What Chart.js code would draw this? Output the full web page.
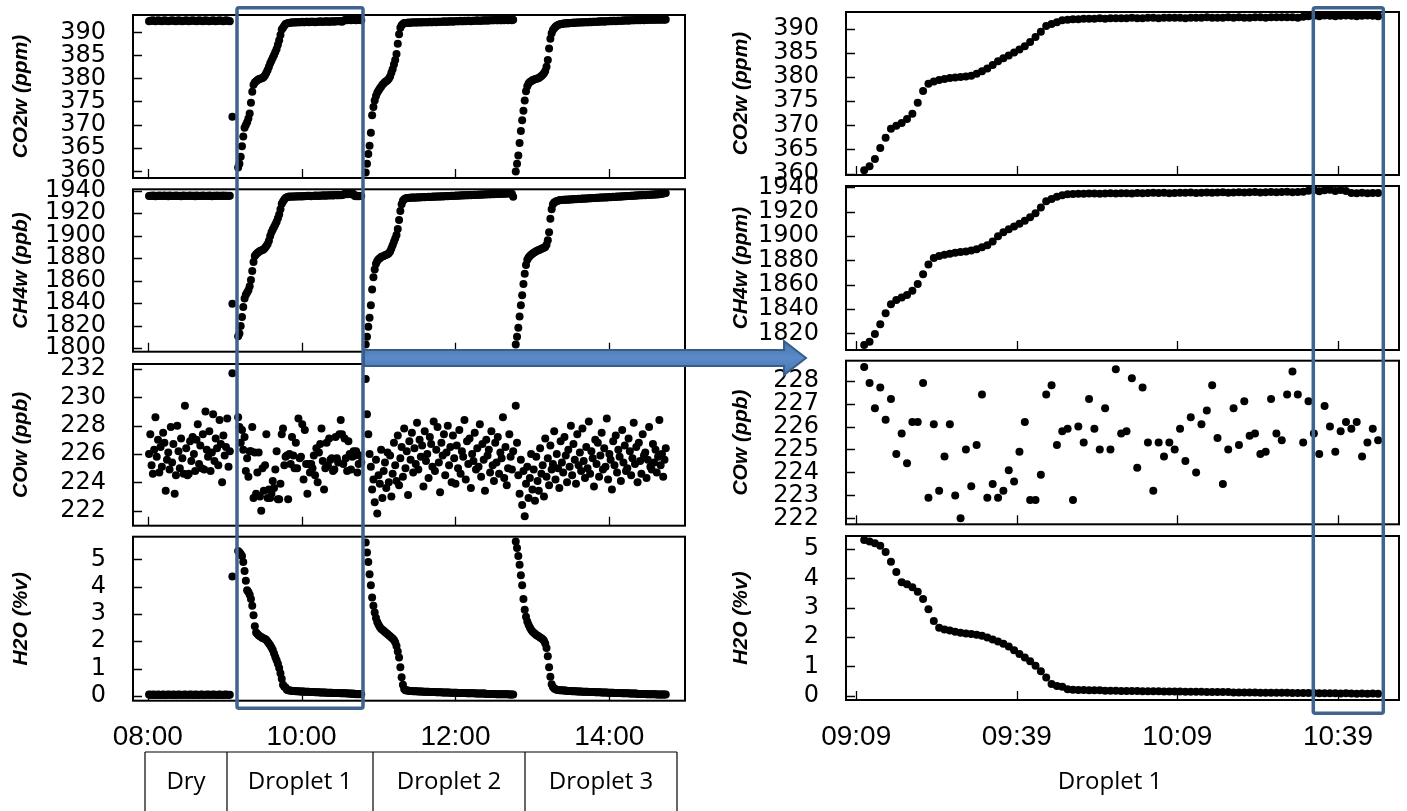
<!DOCTYPE html>
<html>
<head>
<meta charset="utf-8">
<title>Droplet gas measurements</title>
<script src="https://cdn.jsdelivr.net/npm/chart.js@4.4.1/dist/chart.umd.min.js"></script>
<style>
  html, body { margin: 0; padding: 0; background: #fff; }
  #stage { position: relative; width: 1407px; height: 811px; overflow: hidden; background: #fff; }
  #stage canvas { position: absolute; left: 0; top: 0; }
  #overlay { position: absolute; left: 0; top: 0; }
</style>
</head>
<body>
<div id="stage">
  <svg id="overlay" width="1407" height="811" viewBox="0 0 1407 811" xmlns="http://www.w3.org/2000/svg">
    <defs>
      <linearGradient id="arrowFill" x1="0" y1="0" x2="0" y2="1">
        <stop offset="0" stop-color="#4774ad"/>
        <stop offset="0.5" stop-color="#5a8bc8"/>
        <stop offset="1" stop-color="#4774ad"/>
      </linearGradient>
    </defs>
    <!-- phase table under the full-run panels -->
    <g stroke="#000" stroke-width="1.2" fill="none">
      <line x1="145" y1="752" x2="677" y2="752"/>
      <line x1="145" y1="752" x2="145" y2="815"/>
      <line x1="227" y1="752" x2="227" y2="815"/>
      <line x1="373" y1="752" x2="373" y2="815"/>
      <line x1="525" y1="752" x2="525" y2="815"/>
      <line x1="677" y1="752" x2="677" y2="815"/>
    </g>
    <g font-family="Open Sans, sans-serif" font-size="24" fill="#000" text-anchor="middle">
      <text x="186" y="789">Dry</text>
      <text x="300" y="789">Droplet 1</text>
      <text x="449" y="789">Droplet 2</text>
      <text x="601" y="789">Droplet 3</text>
      <text x="1110" y="789">Droplet 1</text>
    </g>
    <!-- highlight frames -->
    <rect x="237" y="7.7" width="126" height="700.6" rx="2" fill="none" stroke="#40638f" stroke-width="3.5"/>
    <rect x="1313.3" y="7.7" width="70" height="705.6" rx="2" fill="none" stroke="#40638f" stroke-width="3.5"/>
    <!-- zoom arrow -->
    <polygon points="364,350 784,350 784,341 806,358 784,375 784,366 364,366"
             fill="url(#arrowFill)" stroke="#385d8a" stroke-width="2" stroke-linejoin="miter"/>
  </svg>
</div>
<script>
// ---- sampling ----
const sampleStep = 1;            // minutes between samples
const dryStart = 481;            // 08:01
const switchStart = 546;         // single sample while switching to the droplet
const droplet1Start = 550.5;
const droplet2Start = 650;
const droplet3Start = 767;

// ---- axis ticks ----
const timeTicksLeft = [480, 600, 720, 840];
const timeTicksRight = [549, 579, 609, 639];
const co2Ticks = [360, 365, 370, 375, 380, 385, 390];
const ch4TicksLeft = [1800, 1820, 1840, 1860, 1880, 1900, 1920, 1940];
const ch4TicksRight = [1820, 1840, 1860, 1880, 1900, 1920, 1940];
const coTicksLeft = [222, 224, 226, 228, 230, 232];
const coTicksRight = [222, 223, 224, 225, 226, 227, 228];
const h2oTicks = [0, 1, 2, 3, 4, 5];

// ---- dry reference period ----
const dryCO2 = [
  392.4, 392.5, 392.5, 392.6, 392.5, 392.4, 392.5, 392.6, 392.5, 392.5,
  392.4, 392.5, 392.6, 392.5, 392.5, 392.4, 392.5, 392.5, 392.6, 392.5,
  392.5, 392.4, 392.5, 392.6, 392.5, 392.5, 392.4, 392.5, 392.5, 392.6,
  392.5, 392.4, 392.5, 392.5, 392.6, 392.5, 392.5, 392.4, 392.5, 392.6,
  392.5, 392.5, 392.4, 392.5, 392.6, 392.5, 392.5, 392.4, 392.5, 392.5,
  392.6, 392.5, 392.4, 392.5, 392.5, 392.6, 392.5, 392.5, 392.4, 392.5,
  392.6, 392.5, 392.5, 392.4
];
const dryCH4 = [
  1935.3, 1935.6, 1935.4, 1935.8, 1935.5, 1935.2, 1935.6, 1935.4, 1935.7, 1935.5,
  1935.3, 1935.6, 1935.8, 1935.4, 1935.5, 1935.2, 1935.7, 1935.5, 1935.4, 1935.6,
  1935.3, 1935.8, 1935.5, 1935.4, 1935.6, 1935.2, 1935.5, 1935.7, 1935.4, 1935.6,
  1935.3, 1935.5, 1935.8, 1935.4, 1935.6, 1935.5, 1935.2, 1935.7, 1935.5, 1935.3,
  1935.6, 1935.4, 1935.8, 1935.5, 1935.3, 1935.6, 1935.4, 1935.7, 1935.5, 1935.2,
  1935.6, 1935.5, 1935.3, 1935.8, 1935.4, 1935.6, 1935.5, 1935.3, 1935.7, 1935.4,
  1935.6, 1935.5, 1935.3, 1935.6
];
const dryCO = [
  226.0, 227.4, 225.2, 224.6, 226.3, 228.6, 225.8, 227.0, 224.7, 226.5,
  225.1, 227.5, 226.8, 223.4, 225.6, 226.1, 224.9, 227.9, 225.4, 226.7,
  223.2, 224.5, 228.0, 226.2, 225.0, 227.1, 225.7, 224.6, 229.4, 226.4,
  224.5, 224.6, 226.9, 225.5, 227.2, 226.0, 224.8, 227.0, 228.1, 225.3,
  226.6, 225.0, 227.4, 224.9, 229.0, 226.3, 225.8, 227.6, 224.8, 226.1,
  228.8, 225.5, 227.1, 226.4, 225.2, 228.4, 226.7, 224.0, 227.3, 225.9,
  226.5, 228.5, 225.1, 226.2
];
const dryH2O = [
  0.05, 0.04, 0.03, 0.05, 0.04, 0.04, 0.03, 0.05, 0.04, 0.03,
  0.04, 0.05, 0.04, 0.03, 0.04, 0.05, 0.04, 0.04, 0.03, 0.05,
  0.04, 0.03, 0.04, 0.05, 0.04, 0.04, 0.03, 0.04, 0.05, 0.04,
  0.03, 0.04, 0.05, 0.04, 0.04, 0.03, 0.05, 0.04, 0.04, 0.03,
  0.04, 0.05, 0.04, 0.03, 0.04, 0.04, 0.05, 0.04, 0.03, 0.04,
  0.05, 0.04, 0.04, 0.03, 0.04, 0.05, 0.04, 0.03, 0.04, 0.04,
  0.05, 0.04, 0.03, 0.04
];

// ---- switching sample ----
const switchCO2 = [371.7];
const switchCH4 = [1839.5];
const switchCO = [231.7];
const switchH2O = [4.37];

// ---- droplet 1 ----
const droplet1CO2 = [
  360.7, 361.5, 363.0, 365.3, 367.4, 369.3, 369.9, 370.5, 371.3, 372.4,
  374.7, 377.1, 378.6, 379.1, 379.4, 379.6, 379.8, 379.9, 380.0, 380.1,
  380.3, 380.7, 381.2, 381.8, 382.5, 383.3, 383.9, 384.5, 385.1, 385.7,
  386.4, 387.3, 388.3, 389.4, 390.6, 391.0, 391.4, 391.8,
  391.9, 392.0, 392.0, 392.1, 392.1, 392.1, 392.2, 392.1, 392.2, 392.2,
  392.2, 392.2, 392.3, 392.2, 392.2, 392.3, 392.3, 392.2, 392.3, 392.3,
  392.3, 392.3, 392.2, 392.3, 392.3, 392.3, 392.4, 392.3, 392.3, 392.3,
  392.4, 392.3, 392.4, 392.3, 392.3, 392.4, 392.4, 392.3, 392.4, 392.4,
  392.4, 392.4, 392.4, 392.3, 392.5, 392.6, 392.7, 392.6, 392.8, 392.7,
  392.6, 392.7, 392.8, 392.7, 392.6, 392.7, 392.8, 392.7, 392.6
];
const droplet1CH4 = [
  1810.4, 1813.0, 1819.5, 1827.5, 1836.5, 1844.0, 1847.5, 1849.5, 1851.5, 1855.0,
  1860.5, 1868.5, 1876.5, 1882.0, 1883.5, 1884.5, 1885.5, 1886.3, 1886.8, 1887.2,
  1888.0, 1889.2, 1890.8, 1892.5, 1895.5, 1899.8, 1903.0, 1905.5, 1907.8, 1910.0,
  1912.5, 1915.5, 1918.8, 1923.5, 1928.5, 1930.5, 1932.2, 1933.5,
  1934.3, 1934.6, 1934.8, 1934.7, 1934.9, 1935.0, 1934.8, 1935.0, 1935.1, 1934.9,
  1935.1, 1935.2, 1935.0, 1935.3, 1935.1, 1935.4, 1935.6, 1935.3, 1935.5, 1935.2,
  1935.4, 1935.6, 1935.5, 1935.7, 1935.4, 1935.6, 1935.8, 1935.5, 1935.7, 1935.9,
  1935.6, 1935.8, 1936.0, 1935.7, 1935.9, 1936.1, 1935.8, 1936.0, 1936.2, 1935.9,
  1936.1, 1936.3, 1936.0, 1936.2, 1936.4, 1937.2, 1937.9, 1936.8, 1937.6, 1938.1,
  1937.0, 1937.8, 1936.9, 1935.4, 1935.2, 1935.6, 1935.1, 1935.4, 1935.3
];
const droplet1CO = [
  228.6, 227.9, 226.8, 227.7, 226.3, 227.2, 224.8, 225.7, 224.4, 226.2,
  226.2, 227.9, 222.9, 226.1, 223.2, 224.7, 226.1, 223.0, 222.0, 225.0,
  223.4, 225.2, 227.4, 222.9, 223.5, 222.9, 223.2, 224.1, 223.6, 224.9,
  226.2, 222.8, 222.8, 223.9, 227.4, 227.8, 225.2, 225.8, 225.9, 222.8,
  226.0, 225.3, 227.2, 225.9, 225.0, 226.8, 225.0, 228.5, 225.7, 225.8,
  228.1, 224.2, 227.7, 225.3, 223.2, 225.3, 224.7, 225.3, 225.0, 225.9,
  224.5, 226.4, 224.0, 226.1, 226.7, 227.8, 225.5, 223.5, 225.0, 226.8,
  225.2, 227.1, 225.6, 225.7, 224.8, 224.9, 227.2, 225.7, 225.4, 227.4,
  228.4, 227.4, 225.3, 227.1, 225.7, 224.8, 226.9, 226.0, 224.9, 225.8,
  226.2, 225.9, 226.2, 224.7, 225.3, 225.9, 225.4
];
const droplet1H2O = [
  5.31, 5.26, 5.20, 5.12, 4.90, 4.57, 4.22, 3.87, 3.80, 3.70,
  3.55, 3.30, 2.95, 2.55, 2.32, 2.26, 2.22, 2.18, 2.15, 2.12,
  2.10, 2.08, 2.04, 1.98, 1.92, 1.85, 1.77, 1.68, 1.55, 1.42,
  1.30, 1.17, 1.02, 0.83, 0.62, 0.40, 0.33, 0.30, 0.22,
  0.20, 0.19, 0.19, 0.18, 0.18, 0.18, 0.17, 0.17, 0.17, 0.16,
  0.16, 0.16, 0.16, 0.15, 0.15, 0.15, 0.15, 0.14, 0.14, 0.14,
  0.14, 0.13, 0.13, 0.13, 0.13, 0.12, 0.12, 0.12, 0.12, 0.12,
  0.11, 0.11, 0.11, 0.11, 0.11, 0.10, 0.10, 0.10, 0.10, 0.10,
  0.10, 0.09, 0.09, 0.09, 0.09, 0.09, 0.08, 0.08, 0.08, 0.08,
  0.07, 0.08, 0.07, 0.06, 0.07, 0.06, 0.07, 0.06
];

// ---- droplet 2 ----
const droplet2CO2 = [
  359.6, 361.5, 363.6, 365.4, 368.2, 372.0, 373.8, 375.2, 376.2, 376.9,
  377.4, 377.8, 378.2, 378.6, 378.9, 379.2, 379.4, 379.6, 379.9, 380.4,
  381.2, 382.0, 383.0, 384.0, 385.3, 387.5, 389.6, 391.0, 391.5, 391.8,
  392.0,
  392.0, 392.0, 392.1, 392.0, 392.1, 392.1, 392.1, 392.2, 392.1, 392.1,
  392.2, 392.2, 392.1, 392.2, 392.2, 392.2, 392.2, 392.2, 392.2, 392.3,
  392.2, 392.2, 392.3, 392.3, 392.2, 392.3, 392.3, 392.3, 392.3, 392.3,
  392.4, 392.3, 392.3, 392.4, 392.3, 392.4, 392.4, 392.3, 392.4, 392.4,
  392.4, 392.4, 392.4, 392.5, 392.4, 392.4, 392.5, 392.4, 392.5, 392.5,
  392.5, 392.4, 392.5, 392.5, 392.5, 392.5, 392.6, 392.5, 392.5, 392.5,
  392.6, 392.5, 392.6, 392.6, 392.5, 392.6, 392.6, 392.6, 392.6, 392.6,
  392.7, 392.6, 392.6, 392.7, 392.6, 392.6, 392.7, 392.6, 392.7, 392.7,
  392.6, 392.7, 392.7, 392.6, 392.7
];
const droplet2CH4 = [
  1803, 1810, 1819, 1827, 1838, 1852, 1863, 1870, 1875, 1877.5,
  1879, 1880, 1881, 1881.5, 1882, 1882.5, 1883, 1883.5, 1884.3, 1886,
  1888.5, 1891.5, 1894.5, 1897.5, 1900.5, 1906, 1914, 1922, 1928, 1931,
  1932.5, 1933.2,
  1933.5, 1933.6, 1933.8, 1933.7, 1933.9, 1934.0, 1933.8, 1934.1, 1934.0, 1934.2,
  1934.1, 1934.3, 1934.2, 1934.4, 1934.3, 1934.5, 1934.4, 1934.6, 1934.5, 1934.7,
  1934.6, 1934.8, 1934.7, 1934.9, 1934.8, 1935.0, 1934.9, 1935.1, 1935.0, 1935.2,
  1935.1, 1935.3, 1935.2, 1935.4, 1935.3, 1935.5, 1935.4, 1935.6, 1935.5, 1935.7,
  1935.6, 1935.8, 1935.7, 1935.9, 1935.8, 1936.0, 1935.9, 1936.1, 1936.0, 1936.2,
  1936.1, 1936.3, 1936.2, 1936.4, 1936.3, 1936.5, 1936.4, 1936.6, 1936.5, 1936.7,
  1936.6, 1936.8, 1936.7, 1936.9, 1936.8, 1937.0, 1936.9, 1937.1, 1937.0, 1937.2,
  1937.1, 1937.3, 1937.2, 1937.4, 1937.3, 1937.5, 1937.4, 1937.6, 1937.5, 1937.6,
  1937.8, 1937.5, 1937.3, 1934.6
];
const droplet2CO = [
  231.3, 228.8, 227.4, 226.0, 225.1, 223.5, 224.2, 222.6, 225.6, 221.8,
  224.5, 223.9, 226.3, 222.9, 224.8, 225.4, 223.6, 226.1, 224.0, 225.9,
  223.0, 224.6, 226.8, 225.2, 224.1, 227.3, 223.8, 225.7, 226.5, 224.4,
  227.8, 225.0, 226.2, 223.1, 226.9, 225.6, 227.5, 224.7, 226.4, 225.3,
  228.2, 224.9, 227.0, 225.8, 226.6, 223.7, 227.6, 225.5, 226.0, 224.3,
  227.2, 226.7, 225.1, 228.3, 224.8, 226.3, 227.9, 225.4, 223.3, 226.8,
  225.9, 227.4, 224.5, 226.1, 228.0, 225.2, 226.5, 224.0, 227.3, 225.7,
  223.9, 226.6, 225.0, 227.7, 224.6, 226.2, 225.8, 228.4, 224.2, 226.9,
  225.3, 227.1, 223.6, 226.0, 225.5, 227.5, 224.9, 226.4, 225.1, 228.1,
  224.4, 226.7, 225.6, 223.4, 227.0, 225.9, 226.3, 224.7, 227.6, 225.2,
  224.1, 226.8, 225.4, 227.2, 224.6, 226.1, 225.7, 228.6, 224.3, 226.5,
  223.8, 225.0, 227.4, 225.8, 224.9, 226.2
];
const droplet2H2O = [
  5.62, 5.25, 4.90, 4.45, 4.05, 3.60, 3.30, 3.05, 2.85, 2.70,
  2.60, 2.52, 2.46, 2.42, 2.38, 2.34, 2.30, 2.26, 2.22, 2.18,
  2.14, 2.10, 2.04, 1.96, 1.82, 1.62, 1.40, 1.05, 0.68, 0.40,
  0.25, 0.20,
  0.19, 0.19, 0.18, 0.18, 0.18, 0.17, 0.17, 0.17, 0.17, 0.16,
  0.16, 0.16, 0.16, 0.15, 0.15, 0.15, 0.15, 0.15, 0.14, 0.14,
  0.14, 0.14, 0.14, 0.13, 0.13, 0.13, 0.13, 0.13, 0.12, 0.12,
  0.12, 0.12, 0.12, 0.12, 0.11, 0.11, 0.11, 0.11, 0.11, 0.11,
  0.10, 0.10, 0.10, 0.10, 0.10, 0.10, 0.10, 0.09, 0.09, 0.09,
  0.09, 0.09, 0.09, 0.09, 0.08, 0.08, 0.08, 0.08, 0.08, 0.08,
  0.08, 0.08, 0.07, 0.07, 0.07, 0.07, 0.07, 0.07, 0.07, 0.07,
  0.06, 0.06, 0.06, 0.06, 0.06, 0.06, 0.06, 0.06, 0.06, 0.06,
  0.05, 0.05, 0.05, 0.05
];

// ---- droplet 3 ----
const droplet3CO2 = [
  359.8, 361.5, 363.3, 366.0, 368.6, 370.9, 373.0, 375.2, 377.2, 378.3,
  378.9, 379.2, 379.4, 379.6, 379.7, 379.8, 379.9, 380.0, 380.1, 380.3,
  380.5, 380.8, 381.1, 381.6, 382.5, 384.0, 386.5, 388.6, 389.8, 390.5,
  390.9, 391.2, 391.4, 391.6, 391.7,
  391.8, 391.8, 391.9, 391.9, 391.9, 392.0, 391.9, 392.0, 392.0, 392.0,
  392.1, 392.0, 392.1, 392.1, 392.1, 392.1, 392.2, 392.1, 392.2, 392.2,
  392.2, 392.2, 392.2, 392.3, 392.2, 392.3, 392.3, 392.3, 392.3, 392.3,
  392.4, 392.3, 392.4, 392.4, 392.3, 392.4, 392.4, 392.4, 392.4, 392.5,
  392.4, 392.5, 392.5, 392.4, 392.5, 392.5, 392.5, 392.5, 392.5, 392.6,
  392.5, 392.6, 392.6, 392.5, 392.6, 392.6, 392.6, 392.6, 392.6, 392.7,
  392.6, 392.7, 392.6, 392.7, 392.7, 392.6, 392.7, 392.7, 392.7, 392.7,
  392.8, 392.7, 392.7, 392.8, 392.7, 392.8, 392.8, 392.7, 392.8, 392.8,
  392.8, 392.7, 392.8
];
const droplet3CH4 = [
  1803, 1810, 1818, 1828, 1838, 1847, 1857, 1866, 1874, 1878.5,
  1880.5, 1882, 1883, 1884, 1884.8, 1885.5, 1886.2, 1886.8, 1887.3, 1887.8,
  1888.3, 1888.8, 1889.3, 1890, 1892, 1896, 1903, 1915, 1923.5, 1928,
  1929.5, 1930.2, 1930.8, 1931.2,
  1931.5, 1931.7, 1931.8, 1932.0, 1931.9, 1932.1, 1932.2, 1932.1, 1932.3, 1932.4,
  1932.3, 1932.5, 1932.6, 1932.5, 1932.7, 1932.8, 1932.7, 1932.9, 1933.0, 1932.9,
  1933.1, 1933.2, 1933.1, 1933.3, 1933.4, 1933.3, 1933.5, 1933.6, 1933.5, 1933.7,
  1933.8, 1933.7, 1933.9, 1934.0, 1933.9, 1934.1, 1934.2, 1934.1, 1934.3, 1934.4,
  1934.3, 1934.5, 1934.6, 1934.5, 1934.7, 1934.8, 1934.7, 1934.9, 1935.0, 1934.9,
  1935.1, 1935.2, 1935.1, 1935.3, 1935.4, 1935.3, 1935.5, 1935.6, 1935.5, 1935.7,
  1935.8, 1935.7, 1935.9, 1936.0, 1935.9, 1936.1, 1936.2, 1936.1, 1936.3, 1936.4,
  1936.3, 1936.5, 1936.6, 1936.5, 1936.7, 1936.8, 1936.7, 1936.9, 1937.0, 1937.1,
  1937.3, 1937.5, 1937.7, 1937.9
];
const droplet3CO = [
  229.4, 226.8, 224.5, 223.2, 225.6, 222.4, 224.8, 221.6, 223.9, 225.1,
  222.9, 224.3, 226.0, 223.5, 224.9, 222.7, 225.8, 224.1, 223.4, 226.4,
  224.6, 225.2, 223.0, 227.1, 224.4, 225.7, 223.8, 226.6, 224.9, 225.3,
  227.6, 224.2, 226.0, 225.0, 223.6, 226.9, 225.4, 224.7, 227.2, 225.9,
  224.0, 226.3, 225.1, 228.0, 224.5, 226.7, 225.6, 223.9, 227.4, 225.2,
  226.1, 224.8, 227.8, 225.5, 224.3, 226.5, 225.0, 228.3, 224.6, 226.2,
  225.7, 223.7, 227.0, 225.3, 226.8, 224.4, 225.9, 227.5, 224.9, 226.4,
  225.1, 228.5, 224.2, 226.0, 225.6, 223.5, 226.9, 225.2, 227.3, 224.7,
  226.3, 225.8, 224.1, 227.7, 225.4, 226.6, 224.8, 225.0, 227.1, 226.2,
  224.5, 225.7, 228.2, 225.3, 226.5, 224.0, 226.8, 225.5, 224.6, 227.4,
  225.9, 226.1, 224.3, 225.6, 227.9, 225.1, 224.9, 226.7, 225.4, 226.3,
  224.7, 225.8, 228.4, 225.2, 226.0, 224.4, 225.6, 226.4
];
const droplet3H2O = [
  5.65, 5.42, 5.12, 4.80, 4.42, 4.05, 3.55, 3.15, 2.90, 2.72,
  2.60, 2.50, 2.42, 2.36, 2.31, 2.27, 2.23, 2.20, 2.17, 2.14,
  2.11, 2.07, 2.02, 1.92, 1.75, 1.45, 1.05, 0.70, 0.42, 0.32,
  0.27, 0.24, 0.22,
  0.21, 0.20, 0.20, 0.20, 0.19, 0.19, 0.19, 0.18, 0.18, 0.18,
  0.18, 0.17, 0.17, 0.17, 0.17, 0.16, 0.16, 0.16, 0.16, 0.15,
  0.15, 0.15, 0.15, 0.15, 0.14, 0.14, 0.14, 0.14, 0.14, 0.13,
  0.13, 0.13, 0.13, 0.13, 0.12, 0.12, 0.12, 0.12, 0.12, 0.11,
  0.11, 0.11, 0.11, 0.11, 0.10, 0.10, 0.10, 0.10, 0.10, 0.10,
  0.09, 0.09, 0.09, 0.09, 0.09, 0.09, 0.08, 0.08, 0.08, 0.08,
  0.08, 0.08, 0.07, 0.07, 0.07, 0.07, 0.07, 0.07, 0.07, 0.06,
  0.06, 0.06, 0.06, 0.06, 0.06, 0.06, 0.06, 0.05, 0.05, 0.05,
  0.05, 0.05, 0.05, 0.05, 0.05
];

// ---- assemble sample segments ----
const dry = { start: dryStart, co2: dryCO2, ch4: dryCH4, co: dryCO, h2o: dryH2O };
const switching = { start: switchStart, co2: switchCO2, ch4: switchCH4, co: switchCO, h2o: switchH2O };
const droplet1 = { start: droplet1Start, co2: droplet1CO2, ch4: droplet1CH4, co: droplet1CO, h2o: droplet1H2O };
const droplet2 = { start: droplet2Start, co2: droplet2CO2, ch4: droplet2CH4, co: droplet2CO, h2o: droplet2H2O };
const droplet3 = { start: droplet3Start, co2: droplet3CO2, ch4: droplet3CH4, co: droplet3CO, h2o: droplet3H2O };
const fullRun = [dry, switching, droplet1, droplet2, droplet3];
const zoomRun = [droplet1];

function series(gas, segs) {
  return segs.flatMap(s => s[gas].map((v, i) => ({ x: s.start + i * sampleStep, y: v })));
}

function clock(v) {
  const h = Math.floor(v / 60);
  const m = Math.round(v - h * 60);
  return String(h).padStart(2, '0') + ':' + String(m).padStart(2, '0');
}

// frame and inward tick marks, placed through the chart's own scales
const framePlugin = {
  id: 'frame',
  afterDraw(chart, args, opts) {
    const { ctx, chartArea: a, scales } = chart;
    ctx.save();
    ctx.strokeStyle = '#000';
    ctx.lineWidth = 1.3;
    ctx.beginPath();
    for (const v of opts.yTicks) {
      const py = Math.round(scales.y.getPixelForValue(v)) + 0.5;
      ctx.moveTo(a.left, py); ctx.lineTo(a.left + 9, py);
    }
    for (const v of opts.xTicks) {
      const px = Math.round(scales.x.getPixelForValue(v)) + 0.5;
      ctx.moveTo(px, a.bottom); ctx.lineTo(px, a.bottom - 9);
    }
    ctx.stroke();
    ctx.lineWidth = 2;
    ctx.strokeRect(a.left, a.top, a.right - a.left, a.bottom - a.top);
    ctx.restore();
  }
};

const W = 1407, H = 811;
const leftTime = { min: 468.5, max: 899, ticks: timeTicksLeft };
const rightTime = { min: 547.1, max: 650.4, ticks: timeTicksRight };

const panels = [
  { gas: 'co2', segs: fullRun, time: leftTime, box: { l: 133, t: 15, r: 685, b: 178 }, y: { min: 358.4, max: 393.75, ticks: co2Ticks }, title: 'CO2w (ppm)', titleX: 21, labels: false },
  { gas: 'ch4', segs: fullRun, time: leftTime, box: { l: 133, t: 189.3, r: 685, b: 351.7 }, y: { min: 1796.7, max: 1941.3, ticks: ch4TicksLeft }, title: 'CH4w (ppb)', titleX: 21, labels: false },
  { gas: 'co', segs: fullRun, time: leftTime, box: { l: 133, t: 364, r: 685, b: 525.7 }, y: { min: 220.94, max: 232.35, ticks: coTicksLeft }, title: 'COw (ppb)', titleX: 21, labels: false },
  { gas: 'h2o', segs: fullRun, time: leftTime, box: { l: 133, t: 536.7, r: 685, b: 700.7 }, y: { min: -0.18, max: 5.83, ticks: h2oTicks }, title: 'H2O (%v)', titleX: 21, labels: true },
  { gas: 'co2', segs: zoomRun, time: rightTime, box: { l: 846, t: 12, r: 1399, b: 175 }, y: { min: 359.7, max: 393.5, ticks: co2Ticks }, title: 'CO2w (ppm)', titleX: 741, labels: false },
  { gas: 'ch4', segs: zoomRun, time: rightTime, box: { l: 846, t: 186, r: 1399, b: 350 }, y: { min: 1806.3, max: 1941.1, ticks: ch4TicksRight }, title: 'CH4w (ppm)', titleX: 741, labels: false },
  { gas: 'co', segs: zoomRun, time: rightTime, box: { l: 846, t: 360.7, r: 1399, b: 524.3 }, y: { min: 221.74, max: 228.87, ticks: coTicksRight }, title: 'COw (ppb)', titleX: 741, labels: false },
  { gas: 'h2o', segs: zoomRun, time: rightTime, box: { l: 846, t: 536, r: 1399, b: 700 }, y: { min: -0.15, max: 5.45, ticks: h2oTicks }, title: 'H2O (%v)', titleX: 741, labels: true }
];

const stage = document.getElementById('stage');
const overlay = document.getElementById('overlay');
const titleFont = { family: 'Liberation Sans, Arial, sans-serif', size: 21, weight: 'bold', style: 'italic', lineHeight: 1.2 };

panels.forEach(p => {
  const canvas = document.createElement('canvas');
  canvas.width = W; canvas.height = H;
  canvas.style.width = W + 'px'; canvas.style.height = H + 'px';
  stage.insertBefore(canvas, overlay);
  new Chart(canvas, {
    type: 'scatter',
    data: {
      datasets: [{
        data: series(p.gas, p.segs),
        showLine: false,
        pointRadius: 4,
        pointHoverRadius: 4,
        pointBackgroundColor: '#000',
        pointBorderWidth: 0,
        clip: false
      }]
    },
    options: {
      responsive: false,
      animation: false,
      devicePixelRatio: 1,
      events: [],
      layout: { autoPadding: false, padding: { left: 0, top: p.box.t, right: W - p.box.r, bottom: 0 } },
      plugins: {
        legend: { display: false },
        tooltip: { enabled: false },
        frame: { xTicks: p.time.ticks, yTicks: p.y.ticks }
      },
      scales: {
        x: {
          type: 'linear',
          min: p.time.min,
          max: p.time.max,
          grid: { display: false },
          border: { display: false },
          afterBuildTicks: s => { s.ticks = p.time.ticks.map(v => ({ value: v })); },
          afterFit: s => { s.height = H - p.box.b; s.paddingLeft = 0; s.paddingRight = 0; },
          ticks: {
            display: p.labels,
            autoSkip: false,
            maxRotation: 0,
            padding: 12,
            color: '#000',
            font: { family: 'Liberation Sans, Arial, sans-serif', size: 28 },
            callback: v => clock(v)
          }
        },
        y: {
          type: 'linear',
          min: p.y.min,
          max: p.y.max,
          grid: { display: false },
          border: { display: false },
          afterBuildTicks: s => { s.ticks = p.y.ticks.map(v => ({ value: v })); },
          afterFit: s => { s.width = p.box.l; s.paddingTop = 0; s.paddingBottom = 0; },
          ticks: {
            autoSkip: false,
            padding: 19,
            color: '#000',
            font: { family: 'DejaVu Sans, sans-serif', size: 24 },
            callback: v => String(v)
          },
          title: {
            display: true,
            text: p.title,
            color: '#000',
            font: titleFont,
            padding: { top: p.titleX - 12.6, bottom: 0 }
          }
        }
      }
    },
    plugins: [framePlugin]
  });
});
</script>
</body>
</html>
